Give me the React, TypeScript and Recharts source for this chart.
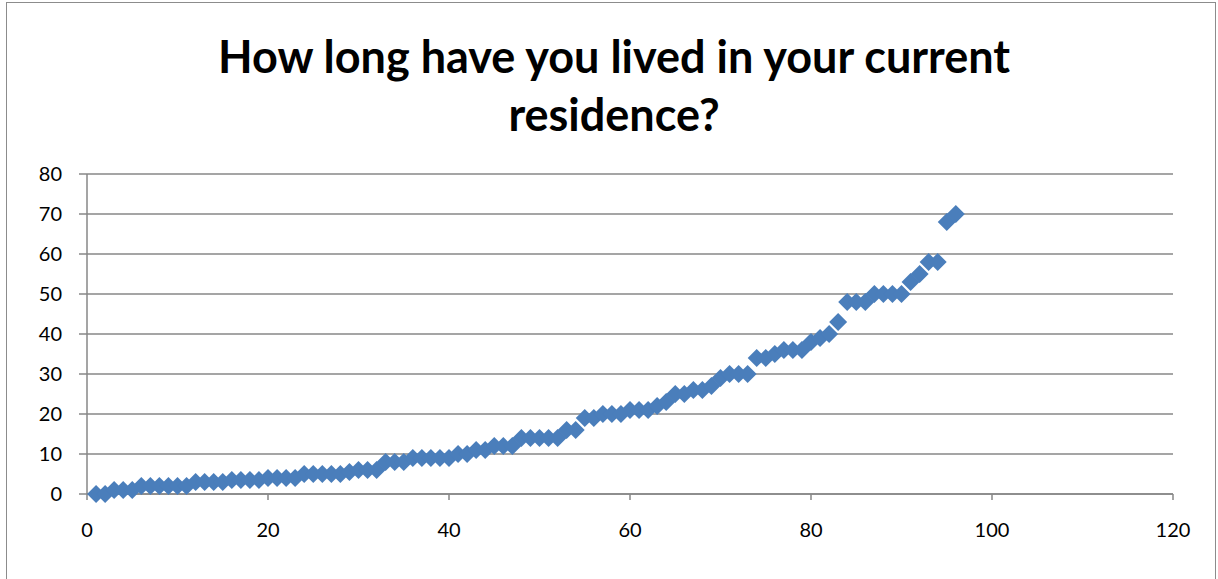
import React from "react";
import { ScatterChart, Scatter, XAxis, YAxis, CartesianGrid } from "recharts";

// respondent number (sorted by answer)
const respondents = [
  1, 2, 3, 4, 5, 6, 7, 8, 9, 10, 11, 12, 13, 14, 15, 16, 17, 18, 19, 20,
  21, 22, 23, 24, 25, 26, 27, 28, 29, 30, 31, 32, 33, 34, 35, 36, 37, 38, 39, 40,
  41, 42, 43, 44, 45, 46, 47, 48, 49, 50, 51, 52, 53, 54, 55, 56, 57, 58, 59, 60,
  61, 62, 63, 64, 65, 66, 67, 68, 69, 70, 71, 72, 73, 74, 75, 76, 77, 78, 79, 80,
  81, 82, 83, 84, 85, 86, 87, 88, 89, 90, 91, 92, 93, 94, 95, 96,
];

// years lived in current residence
const years = [
  0, 0, 1, 1, 1, 2, 2, 2, 2, 2, 2, 3, 3, 3, 3, 3.5, 3.5, 3.5, 3.5, 4,
  4, 4, 4, 5, 5, 5, 5, 5, 5.5, 6, 6, 6, 8, 8, 8, 9, 9, 9, 9, 9,
  10, 10, 11, 11, 12, 12, 12, 14, 14, 14, 14, 14, 16, 16, 19, 19, 20, 20, 20, 21,
  21, 21, 22, 23, 25, 25, 26, 26, 27, 29, 30, 30, 30, 34, 34, 35, 36, 36, 36, 38,
  39, 40, 43, 48, 48, 48, 50, 50, 50, 50, 53, 55, 58, 58, 68, 70,
];

const xTicks = [0, 20, 40, 60, 80, 100, 120];
const yTicks = [0, 10, 20, 30, 40, 50, 60, 70, 80];

const points = respondents.map((r, i) => ({ x: r, y: years[i] }));

const FONT = "Lato, 'Open Sans', sans-serif";
const GRAY = "#878787";

const Diamond = (props: any) => {
  const { cx, cy } = props;
  const r = 9;
  return (
    <polygon
      points={`${cx},${cy - r} ${cx + r},${cy} ${cx},${cy + r} ${cx - r},${cy}`}
      fill="#4a7ebb"
    />
  );
};

export default function App() {
  return (
    <div
      style={{
        position: "absolute",
        left: 0,
        top: 0,
        width: 1218,
        height: 579,
        background: "#fff",
        overflow: "hidden",
        fontFamily: FONT,
      }}
    >
      <div
        style={{
          position: "absolute",
          left: 6,
          top: 2,
          width: 1208,
          height: 620,
          border: "1px solid #8c8c8c",
        }}
      />
      <div
        style={{
          position: "absolute",
          left: 0,
          top: 27,
          width: 1228,
          textAlign: "center",
          fontWeight: 700,
          fontSize: 45,
          lineHeight: "58px",
          color: "#000",
        }}
      >
        How long have you lived in your current
        <br />
        residence?
      </div>
      <div style={{ position: "absolute", left: 0, top: 0 }}>
        <ScatterChart
          width={1218}
          height={579}
          margin={{ top: 174, right: 45, bottom: 55, left: 47 }}
        >
          <CartesianGrid vertical={false} stroke={GRAY} strokeWidth={1.5} />
          <XAxis
            type="number"
            dataKey="x"
            domain={[0, 120]}
            ticks={xTicks}
            height={30}
            stroke={GRAY}
            strokeWidth={1.5}
            tickSize={6}
            tickMargin={23}
            tick={{ fill: "#000", fontSize: 20, fontFamily: FONT }}
          />
          <YAxis
            type="number"
            dataKey="y"
            domain={[0, 80]}
            ticks={yTicks}
            width={40}
            stroke={GRAY}
            strokeWidth={1.5}
            tickSize={8}
            tickMargin={17}
            tick={{ fill: "#000", fontSize: 20, fontFamily: FONT }}
          />
          <Scatter
            data={points}
            shape={<Diamond />}
            isAnimationActive={false}
          />
        </ScatterChart>
      </div>
    </div>
  );
}
